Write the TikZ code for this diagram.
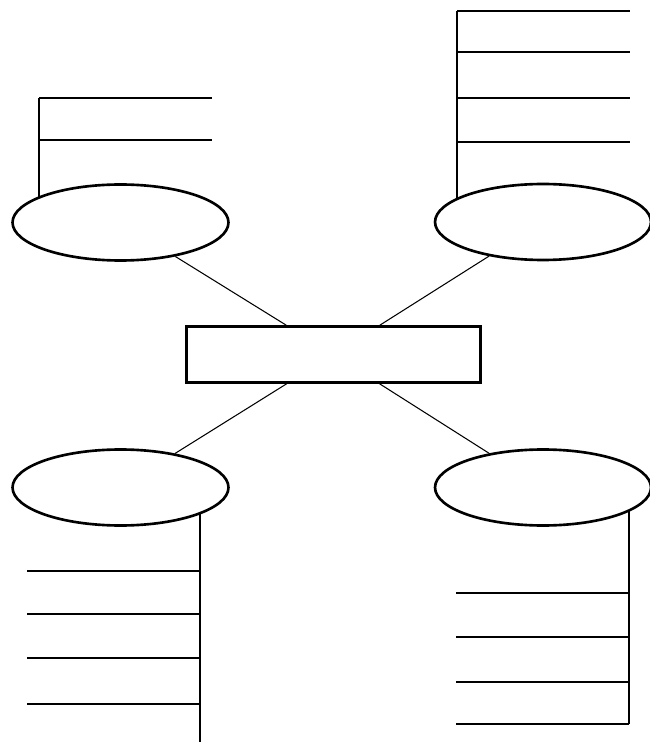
\documentclass[tikz,border=0pt]{standalone}
\usetikzlibrary{shapes.geometric}
\begin{document}
\begin{tikzpicture}[x=0.02cm,y=-0.02cm,
  topic/.style={ellipse,draw,fill=white,line width=1.5pt,minimum width=4.32cm,minimum height=1.52cm,inner sep=0pt},
  hub/.style={rectangle,draw,fill=white,line width=1.5pt,minimum width=5.88cm,minimum height=1.12cm,inner sep=0pt},
  spoke/.style={line width=0.6pt},
  rule/.style={line width=0.75pt}]
\useasboundingbox (0,0) rectangle (649,742);
% top left lines
\coordinate (tlA) at (39,98);
\coordinate (tlB) at (39,140);
\draw[rule] (tlA) -- (39,222);
\draw[rule] (tlA) -- (212,98);
\draw[rule] (tlB) -- (212,140);
% top right lines
\coordinate (trA) at (457,11);
\coordinate (trB) at (457,52);
\coordinate (trC) at (457,98);
\coordinate (trD) at (457,142);
\draw[rule] (trA) -- (457,222);
\draw[rule] (trA) -- (630,11);
\draw[rule] (trB) -- (630,52);
\draw[rule] (trC) -- (630,98);
\draw[rule] (trD) -- (630,142);
% bottom left lines
\coordinate (blA) at (200,571);
\coordinate (blB) at (200,614);
\coordinate (blC) at (200,658);
\coordinate (blD) at (200,704);
\draw[rule] (200,488) -- (200,742);
\draw[rule] (blA) -- (27,571);
\draw[rule] (blB) -- (27,614);
\draw[rule] (blC) -- (27,658);
\draw[rule] (blD) -- (27,704);
% bottom right lines
\coordinate (brA) at (629,593);
\coordinate (brB) at (629,637);
\coordinate (brC) at (629,682);
\coordinate (brD) at (629,724);
\draw[rule] (629,488) -- (brD);
\draw[rule] (brA) -- (456,593);
\draw[rule] (brB) -- (456,637);
\draw[rule] (brC) -- (456,682);
\draw[rule] (brD) -- (456,724);
% nodes
\node[topic] (tl) at (120.5,222.5) {};
\node[topic] (tr) at (543,222) {};
\node[topic] (bl) at (120.5,487.5) {};
\node[topic] (br) at (543,487.5) {};
\node[hub] (c) at (333.5,354.5) {};
% spokes
\draw[spoke] (tl) -- (c);
\draw[spoke] (tr) -- (c);
\draw[spoke] (bl) -- (c);
\draw[spoke] (br) -- (c);
\end{tikzpicture}
\end{document}
